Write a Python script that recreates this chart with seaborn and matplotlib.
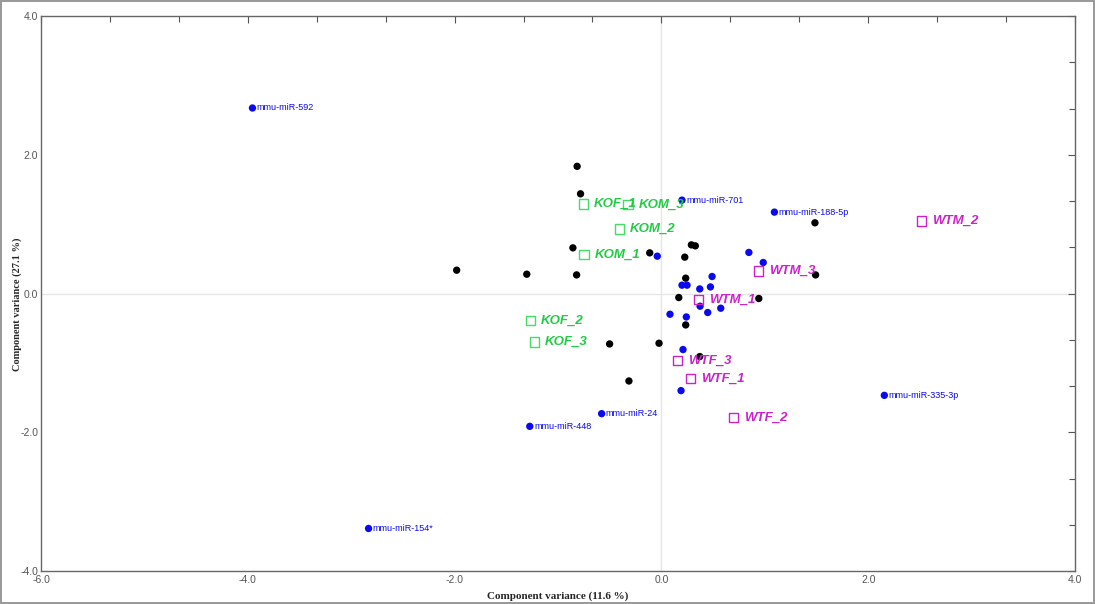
import matplotlib
matplotlib.use("Agg")
import matplotlib.pyplot as plt
import numpy as np
import pandas as pd
import seaborn as sns

# Named miRNA loadings (blue, labelled)
mirna_names = ["mmu-miR-592", "mmu-miR-701", "mmu-miR-188-5p", "mmu-miR-335-3p",
               "mmu-miR-24", "mmu-miR-448", "mmu-miR-154*"]
mirna_x = [-3.955, 0.199, 1.093, 2.156, -0.578, -1.273, -2.832]
mirna_y = [2.674, 1.346, 1.173, -1.468, -1.732, -1.915, -3.387]

# Other significant miRNAs (blue, unlabelled)
sig_x = [-0.040, 0.199, 0.248, 0.371, 0.474, 0.490, 0.846, 0.985, 0.374, 0.448,
         0.574, 0.083, 0.241, 0.209, 0.190]
sig_y = [0.538, 0.120, 0.120, 0.066, 0.095, 0.245, 0.592, 0.447, -0.183, -0.274,
         -0.212, -0.299, -0.338, -0.808, -1.400]

# Remaining miRNAs (black)
other_x = [-0.815, -0.782, -1.980, -1.302, -0.856, -0.820, -0.113, 0.290, 0.328, 0.226,
           0.235, 1.485, 1.491, 0.168, 0.942, 0.235, -0.501, -0.023, 0.371, -0.314]
other_y = [1.833, 1.437, 0.336, 0.278, 0.658, 0.268, 0.586, 0.701, 0.687, 0.524,
           0.221, 1.019, 0.268, -0.058, -0.072, -0.453, -0.727, -0.717, -0.909, -1.261]

# Knock-out samples (green)
ko_names = ["KOF_1", "KOM_3", "KOM_2", "KOM_1", "KOF_2", "KOF_3"]
ko_x = [-0.756, -0.323, -0.404, -0.750, -1.263, -1.224]
ko_y = [1.289, 1.284, 0.928, 0.563, -0.390, -0.698]

# Wild-type samples (magenta)
wt_names = ["WTM_2", "WTM_3", "WTM_1", "WTF_3", "WTF_1", "WTF_2"]
wt_x = [2.517, 0.939, 0.361, 0.154, 0.284, 0.700]
wt_y = [1.043, 0.326, -0.087, -0.967, -1.227, -1.789]

x_ticks = [-6.0, -4.0, -2.0, 0.0, 2.0, 4.0]
y_ticks = [-4.0, -2.0, 0.0, 2.0, 4.0]

BLUE = "#0a0af0"
GREEN = "#22cc44"
MAGENTA = "#cc22cc"

sns.set_style("white")
plt.rcParams["font.family"] = ["Liberation Sans", "DejaVu Sans"]

fig = plt.figure(figsize=(10.95, 6.04), dpi=100)
fig.patch.set_edgecolor("#9a9a9a")
fig.patch.set_linewidth(1.5)
ax = fig.add_axes([41 / 1095, 1 - 571 / 604, (1075 - 41) / 1095, (571 - 16) / 604])

ax.axhline(0, color="#e6e6e6", lw=1, zorder=0)
ax.axvline(0, color="#e6e6e6", lw=1, zorder=0)

sns.scatterplot(x=other_x, y=other_y, ax=ax, color="black", s=28,
                edgecolor="none", zorder=3)
sns.scatterplot(x=sig_x + mirna_x, y=sig_y + mirna_y, ax=ax, color=BLUE, s=28,
                edgecolor="none", zorder=3)
sns.scatterplot(x=ko_x, y=ko_y, ax=ax, marker="s", s=45, facecolor="none",
                edgecolor="#44dd66", linewidth=1.0, zorder=4)
sns.scatterplot(x=wt_x, y=wt_y, ax=ax, marker="s", s=45, facecolor="none",
                edgecolor=MAGENTA, linewidth=1.0, zorder=4)

for name, x, y in zip(mirna_names, mirna_x, mirna_y):
    ax.annotate(name, (x, y), xytext=(3, 0), textcoords="offset points",
                ha="left", va="center", fontsize=6.5, color=BLUE, zorder=5)

for names, xs, ys, col in ((ko_names, ko_x, ko_y, GREEN), (wt_names, wt_x, wt_y, MAGENTA)):
    for name, x, y in zip(names, xs, ys):
        ax.annotate(name, (x, y), xytext=(7.5, 0), textcoords="offset points",
                    ha="left", va="center", fontsize=9.5, color=col,
                    fontweight="bold", fontstyle="italic", zorder=5)

ax.set_xlim(-6, 4)
ax.set_ylim(-4, 4)
ax.set_xticks(x_ticks)
ax.set_yticks(y_ticks)
ax.set_xticklabels([f"{t:.1f}" for t in x_ticks])
ax.set_yticklabels([f"{t:.1f}" for t in y_ticks])
ax.set_xticks(np.arange(-6, 4.01, 2 / 3), minor=True)
ax.set_yticks(np.arange(-4, 4.01, 2 / 3), minor=True)
ax.tick_params(which="both", direction="in", top=True, right=True,
               labelsize=7.5, labelcolor="#555555", color="#555555")
ax.tick_params(which="major", length=5, width=0.8)
ax.tick_params(which="minor", length=4, width=0.8)
ax.tick_params(axis="x", pad=3)
ax.tick_params(axis="y", pad=2)
for lbl in ax.get_yticklabels():
    lbl.set_verticalalignment("center_baseline")
for sp in ax.spines.values():
    sp.set_color("#666666")
    sp.set_linewidth(1.0)

ax.set_xlabel("Component variance (11.6 %)", fontsize=8, fontweight="bold",
              family="Liberation Serif", va="center")
ax.set_ylabel("Component variance (27.1 %)", fontsize=7.5, fontweight="bold",
              family="Liberation Serif", va="center")
ax.xaxis.set_label_coords(0.5, -25 / 555)
ax.yaxis.set_label_coords(-24 / 1034, 0.48)

fig.savefig("out.png", dpi=100)
